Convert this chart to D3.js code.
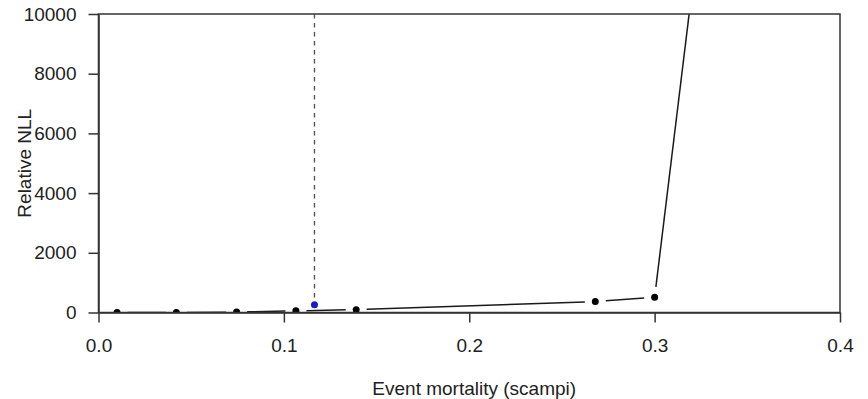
<!DOCTYPE html>
<html>
<head>
<meta charset="utf-8">
<script src="https://cdn.jsdelivr.net/npm/d3@7"></script>
<style>
  body { margin: 0; background: #fff; }
  text { font-family: "Liberation Sans", Arial, sans-serif; fill: #222; }
</style>
</head>
<body>
<div id="chart-area"></div>
<script>
const WIDTH = 868;
const HEIGHT = 399;
const LEFT = 98.5;
const RIGHT = 840;
const TOP = 14;
const BOTTOM = 312.5;
const FONT = '19px';

// profile points (mortality, relative NLL)
const mortality = [0.01, 0.042, 0.0745, 0.1065, 0.139, 0.268, 0.300, 0.35];
const relNLL = [0, 0, 15, 55, 95, 365, 510, 26000];
// estimate
const estMortality = [0.1165];
const estNLL = [260];

const xTicks = [0, 0.1, 0.2, 0.3, 0.4];
const yTicks = [0, 2000, 4000, 6000, 8000, 10000];

main();

function main() {
  const svg = d3.select('#chart-area').append('svg')
    .attr('width', WIDTH)
    .attr('height', HEIGHT);

  const x = d3.scaleLinear().domain([0, 0.4]).range([LEFT, RIGHT]);
  const y = d3.scaleLinear().domain([0, 10000]).range([BOTTOM, TOP]);

  svg.append('clipPath').attr('id', 'plot-clip')
    .append('rect')
    .attr('x', LEFT).attr('y', TOP)
    .attr('width', RIGHT - LEFT).attr('height', BOTTOM - TOP);

  const plot = svg.append('g').attr('clip-path', 'url(#plot-clip)');

  // type = "b" lines: segments with a gap round each point
  const pts = mortality.map((m, i) => [x(m), y(relNLL[i])]);
  const GAP = 10.5;
  for (let i = 0; i < pts.length - 1; i++) {
    const [x0, y0] = pts[i];
    const [x1, y1] = pts[i + 1];
    const len = Math.hypot(x1 - x0, y1 - y0);
    if (len <= GAP * 2) continue;
    const ux = (x1 - x0) / len, uy = (y1 - y0) / len;
    plot.append('line')
      .attr('x1', x0 + ux * GAP).attr('y1', y0 + uy * GAP)
      .attr('x2', x1 - ux * GAP).attr('y2', y1 - uy * GAP)
      .attr('stroke', '#1a1a1a')
      .attr('stroke-width', 1.5);
  }

  plot.selectAll('circle.pt')
    .data(pts)
    .enter()
    .append('circle')
    .attr('class', 'pt')
    .attr('cx', d => d[0])
    .attr('cy', d => d[1])
    .attr('r', 3.5)
    .attr('fill', '#000');

  // dashed line down to the estimate
  plot.append('line')
    .attr('x1', x(estMortality[0])).attr('x2', x(estMortality[0]))
    .attr('y1', TOP).attr('y2', y(estNLL[0]))
    .attr('stroke', '#555')
    .attr('stroke-width', 1.4)
    .attr('stroke-dasharray', '4.5,4.5');

  plot.append('circle')
    .attr('cx', x(estMortality[0]))
    .attr('cy', y(estNLL[0]))
    .attr('r', 3.5)
    .attr('fill', '#1a1ad0');

  // frame
  svg.append('rect')
    .attr('x', LEFT).attr('y', TOP)
    .attr('width', RIGHT - LEFT).attr('height', BOTTOM - TOP)
    .attr('fill', 'none')
    .attr('stroke', '#333')
    .attr('stroke-width', 1.5);

  const axisBottomCall = d3.axisBottom(x)
    .tickValues(xTicks)
    .tickFormat(d3.format('.1f'))
    .tickSize(10)
    .tickSizeOuter(0)
    .tickPadding(16);
  const gx = svg.append('g')
    .attr('transform', `translate(0, ${ BOTTOM })`)
    .call(axisBottomCall);

  const axisLeftCall = d3.axisLeft(y)
    .tickValues(yTicks)
    .tickFormat(d => d)
    .tickSize(10)
    .tickSizeOuter(0)
    .tickPadding(12);
  const gy = svg.append('g')
    .attr('transform', `translate(${ LEFT }, 0)`)
    .call(axisLeftCall);

  [gx, gy].forEach(g => {
    g.select('.domain').attr('stroke', '#333').attr('stroke-width', 1.5);
    g.selectAll('.tick line').attr('stroke', '#333').attr('stroke-width', 1.5);
    g.selectAll('.tick text')
      .attr('fill', '#222')
      .style('font-family', '"Liberation Sans", Arial, sans-serif')
      .style('font-size', FONT);
  });

  svg.append('text')
    .attr('x', (LEFT + RIGHT) / 2 + 5)
    .attr('y', 395)
    .attr('text-anchor', 'middle')
    .style('font-size', FONT)
    .text('Event mortality (scampi)');

  svg.append('text')
    .attr('transform', `translate(31, ${ (TOP + BOTTOM) / 2 }) rotate(-90)`)
    .attr('text-anchor', 'middle')
    .style('font-size', FONT)
    .text('Relative NLL');
}
</script>
</body>
</html>
